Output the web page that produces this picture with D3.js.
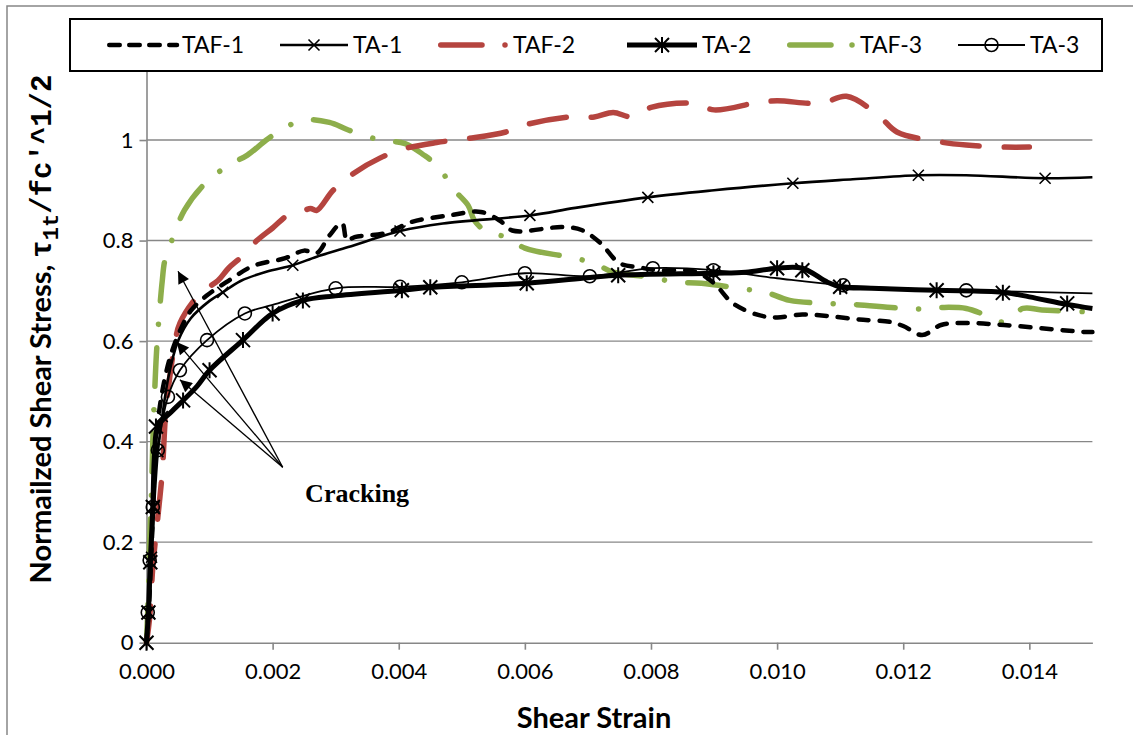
<!DOCTYPE html>
<html><head><meta charset="utf-8">
<script src="https://cdn.jsdelivr.net/npm/d3@7"></script>
<style>body{margin:0;background:#fff} svg{display:block}</style>
</head><body><svg id="c" width="1133" height="735"></svg>
<script>
// ---------- DATA ----------
const seriesNames = ["TAF-1", "TA-1", "TAF-2", "TA-2", "TAF-3", "TA-3"];
const xTickValues = [0, 0.002, 0.004, 0.006, 0.008, 0.010, 0.012, 0.014];
const yTickValues = [0, 0.2, 0.4, 0.6, 0.8, 1.0, 1.2];

const TAF1 = [[0,0],[0.00005,0.1],[0.0001,0.25],[0.00015,0.4],[0.00025,0.5],[0.00038,0.57],[0.00053,0.62],[0.0007,0.66],[0.00095,0.69],[0.0013,0.72],[0.0017,0.75],[0.0022,0.765],[0.0025,0.78],[0.0027,0.775],[0.0029,0.81],[0.0031,0.835],[0.00318,0.8],[0.0033,0.807],[0.0038,0.815],[0.0042,0.837],[0.0048,0.85],[0.0053,0.857],[0.0056,0.84],[0.0058,0.82],[0.0066,0.827],[0.0069,0.821],[0.0072,0.795],[0.0075,0.755],[0.0078,0.747],[0.0081,0.741],[0.0087,0.738],[0.009,0.715],[0.0093,0.675],[0.0097,0.652],[0.01,0.647],[0.0104,0.653],[0.0108,0.65],[0.0113,0.643],[0.0118,0.638],[0.012,0.63],[0.0123,0.612],[0.0126,0.632],[0.013,0.636],[0.0136,0.632],[0.0149,0.618],[0.015,0.618]];

const TA1 = [[0,0],[0.00004,0.06],[0.00008,0.17],[0.00012,0.27],[0.00018,0.38],[0.00025,0.45],[0.00035,0.53],[0.0005,0.6],[0.0007,0.645],[0.001,0.68],[0.00121,0.697],[0.0015,0.72],[0.0019,0.738],[0.00232,0.751],[0.0027,0.768],[0.0032,0.787],[0.00402,0.819],[0.0047,0.834],[0.00608,0.85],[0.0068,0.865],[0.00795,0.886],[0.009,0.9],[0.01025,0.914],[0.0112,0.922],[0.01224,0.93],[0.013,0.93],[0.01425,0.924],[0.015,0.926]];
const TA1markers = [[0,0],[0.00004,0.06],[0.00008,0.17],[0.00012,0.27],[0.00018,0.38],[0.00025,0.45],[0.00121,0.697],[0.00232,0.751],[0.00402,0.819],[0.00608,0.85],[0.00795,0.886],[0.01025,0.914],[0.01224,0.93],[0.01425,0.924]];

const TAF2 = [[0,0],[0.00005,0.05],[0.0001,0.15],[0.00018,0.25],[0.00025,0.34],[0.0003,0.45],[0.00035,0.51],[0.00045,0.595],[0.00053,0.636],[0.00085,0.695],[0.00113,0.72],[0.0013,0.745],[0.0015,0.767],[0.00175,0.8],[0.002,0.825],[0.00228,0.854],[0.0025,0.86],[0.0026,0.864],[0.0027,0.86],[0.00296,0.9],[0.0033,0.935],[0.0037,0.964],[0.0041,0.983],[0.0046,0.995],[0.0051,1.003],[0.0057,1.016],[0.006,1.03],[0.0067,1.046],[0.0071,1.046],[0.0074,1.055],[0.0077,1.046],[0.008,1.065],[0.0087,1.073],[0.009,1.06],[0.0097,1.075],[0.01,1.078],[0.0107,1.073],[0.0111,1.087],[0.0116,1.05],[0.0119,1.016],[0.0125,0.998],[0.013,0.99],[0.0136,0.986],[0.014,0.986]];

const TA2 = [[0,0],[0.00003,0.06],[0.00006,0.16],[0.0001,0.27],[0.00013,0.38],[0.00018,0.43],[0.0004,0.46],[0.00058,0.482],[0.0008,0.51],[0.001,0.542],[0.00153,0.602],[0.002,0.655],[0.00248,0.681],[0.003,0.69],[0.00405,0.701],[0.0045,0.707],[0.00603,0.715],[0.007,0.726],[0.00748,0.731],[0.00899,0.735],[0.0095,0.737],[0.01,0.745],[0.0104,0.745],[0.0108,0.717],[0.011,0.708],[0.0115,0.705],[0.01253,0.701],[0.01358,0.697],[0.0140,0.688],[0.0146,0.673],[0.015,0.665]];
const TA2markers = [[0,0],[0.00003,0.06],[0.00006,0.16],[0.0001,0.27],[0.00015,0.43],[0.00058,0.482],[0.001,0.542],[0.00153,0.602],[0.002,0.655],[0.00248,0.681],[0.00405,0.701],[0.0045,0.707],[0.00603,0.715],[0.00748,0.731],[0.00899,0.735],[0.01,0.745],[0.0104,0.741],[0.011,0.708],[0.01253,0.701],[0.01358,0.696],[0.0146,0.675]];

const TAF3 = [[0,0],[0.00003,0.1],[0.00005,0.2],[0.00008,0.3],[0.0001,0.4],[0.00013,0.5],[0.00016,0.58],[0.0002,0.65],[0.00025,0.72],[0.00029,0.76],[0.0004,0.8],[0.0006,0.86],[0.0009,0.91],[0.0013,0.95],[0.0016,0.97],[0.0019,1.0],[0.0022,1.025],[0.0025,1.04],[0.0029,1.035],[0.0032,1.02],[0.0037,1.0],[0.0041,0.993],[0.0044,0.97],[0.00465,0.944],[0.00484,0.906],[0.0051,0.87],[0.0052,0.84],[0.0054,0.817],[0.0057,0.807],[0.006,0.785],[0.0067,0.767],[0.0071,0.755],[0.0074,0.737],[0.008,0.727],[0.0084,0.717],[0.0088,0.715],[0.0095,0.703],[0.0098,0.698],[0.0102,0.681],[0.0108,0.675],[0.0112,0.673],[0.0122,0.664],[0.0126,0.667],[0.013,0.665],[0.0133,0.652],[0.0136,0.638],[0.0139,0.665],[0.0142,0.662],[0.015,0.658]];

const TA3 = [[0,0],[0.00002,0.06],[0.00005,0.164],[0.0001,0.27],[0.00018,0.383],[0.00034,0.489],[0.00053,0.542],[0.00096,0.602],[0.00156,0.655],[0.002,0.672],[0.003,0.705],[0.00402,0.708],[0.005,0.717],[0.006,0.735],[0.00703,0.729],[0.00803,0.745],[0.00899,0.741],[0.01,0.725],[0.01105,0.711],[0.013,0.701],[0.015,0.695]];
const TA3markers = [[0.00002,0.06],[0.00005,0.164],[0.0001,0.27],[0.00018,0.383],[0.00034,0.489],[0.00053,0.542],[0.00096,0.602],[0.00156,0.655],[0.003,0.705],[0.00402,0.708],[0.005,0.717],[0.006,0.735],[0.00703,0.729],[0.00803,0.745],[0.00899,0.741],[0.01105,0.711],[0.013,0.701]];

// Cracking annotation (data coordinates)
const crackOrigin = [0.00216, 0.349];
const crackTips = [[0.0005, 0.739], [0.00048, 0.598], [0.00053, 0.523]];
const crackLabel = [0.00334, 0.28];

// ---------- CHART ----------
const svg = d3.select("#c");
const x = d3.scaleLinear().domain([0, 0.015]).range([146.5, 1092.4]);
const y = d3.scaleLinear().domain([0, 1.2]).range([642.7, 39.5]);
const gray = "#878787";
const sans = "Lato, 'Open Sans', sans-serif";

// outer chart border
svg.append("rect").attr("x", 7).attr("y", 6).attr("width", 1140).attr("height", 740)
  .attr("fill", "#fff").attr("stroke", gray).attr("stroke-width", 1.5);

// gridlines
svg.append("g").selectAll("line").data(yTickValues.filter(d => d > 0)).join("line")
  .attr("x1", x(0)).attr("x2", x(0.015))
  .attr("y1", d => y(d)).attr("y2", d => y(d))
  .attr("stroke", gray).attr("stroke-width", 1.4);

// axes
const xAxis = d3.axisBottom(x).tickValues(xTickValues).tickFormat(d3.format(".3f")).tickSizeInner(7).tickSizeOuter(0).tickPadding(14);
const gx = svg.append("g").attr("transform", `translate(0,${y(0)})`).call(xAxis);
const yAxis = d3.axisLeft(y).tickValues(yTickValues).tickFormat(d => d === 0 ? "0" : d3.format("~g")(d)).tickSizeInner(7).tickSizeOuter(0).tickPadding(6);
const gy = svg.append("g").attr("transform", `translate(${x(0)},0)`).call(yAxis);
[gx, gy].forEach(g => {
  g.select(".domain").attr("stroke", gray).attr("stroke-width", 1.6);
  g.selectAll(".tick line").attr("stroke", gray).attr("stroke-width", 1.6);
  g.selectAll(".tick text").attr("fill", "#000").attr("font-family", sans).attr("font-size", 22);
});

// series
const line = d3.line().x(d => x(d[0])).y(d => y(d[1])).curve(d3.curveCatmullRom.alpha(0.5));
const styles = {
  "TAF-1": {data: TAF1, color: "#000", width: 4.5, dash: "10,11"},
  "TA-1":  {data: TA1, color: "#000", width: 2.6, dash: null, markers: TA1markers, sym: "x"},
  "TAF-2": {data: TAF2, color: "#B5443F", width: 5.5, dash: "37,25"},
  "TA-2":  {data: TA2, color: "#000", width: 5, dash: null, markers: TA2markers, sym: "star"},
  "TAF-3": {data: TAF3, color: "#8DAE4B", width: 5.5, dash: "38.5,23.5,0.01,23.5"},
  "TA-3":  {data: TA3, color: "#000", width: 1.8, dash: null, markers: TA3markers, sym: "o"}
};
const order = ["TAF-3", "TAF-2", "TAF-1", "TA-1", "TA-3", "TA-2"];

function drawMarker(g, sym, cx, cy) {
  if (sym === "x") {
    const s = 5.5;
    g.append("path").attr("d", `M${cx-s},${cy-s}L${cx+s},${cy+s}M${cx-s},${cy+s}L${cx+s},${cy-s}`)
      .attr("stroke", "#000").attr("stroke-width", 1.6).attr("fill", "none");
  } else if (sym === "star") {
    const s = 7;
    g.append("path").attr("d", `M${cx-s},${cy-s}L${cx+s},${cy+s}M${cx-s},${cy+s}L${cx+s},${cy-s}M${cx},${cy-s-1}L${cx},${cy+s+1}`)
      .attr("stroke", "#000").attr("stroke-width", 2).attr("fill", "none");
  } else if (sym === "o") {
    g.append("circle").attr("cx", cx).attr("cy", cy).attr("r", 6.5)
      .attr("stroke", "#000").attr("stroke-width", 1.6).attr("fill", "none");
  }
}

const plot = svg.append("g");
order.forEach(name => {
  const st = styles[name];
  plot.append("path").datum(st.data).attr("d", line)
    .attr("fill", "none").attr("stroke", st.color).attr("stroke-width", st.width)
    .attr("stroke-linecap", st.dash ? "round" : "butt").attr("stroke-linejoin", "round")
    .attr("stroke-dasharray", st.dash);
  if (st.markers) {
    const mg = plot.append("g");
    st.markers.forEach(m => drawMarker(mg, st.sym, x(m[0]), y(m[1])));
  }
});

// Cracking annotation
const defs = svg.append("defs");
defs.append("marker").attr("id", "arr").attr("viewBox", "0 0 10 10").attr("refX", 10).attr("refY", 5)
  .attr("markerWidth", 15).attr("markerHeight", 12).attr("markerUnits", "userSpaceOnUse").attr("orient", "auto")
  .append("path").attr("d", "M0,0L10,5L0,10Z").attr("fill", "#000");
svg.append("g").selectAll("line").data(crackTips).join("line")
  .attr("x1", x(crackOrigin[0])).attr("y1", y(crackOrigin[1]))
  .attr("x2", d => x(d[0])).attr("y2", d => y(d[1]))
  .attr("stroke", "#000").attr("stroke-width", 1.3).attr("marker-end", "url(#arr)");
svg.append("text").attr("x", x(crackLabel[0])).attr("y", y(crackLabel[1]))
  .attr("text-anchor", "middle").attr("font-family", "'Liberation Serif', 'Times New Roman', serif")
  .attr("font-weight", "bold").attr("font-size", 26).text("Cracking");

// axis titles
svg.append("text").attr("x", 594).attr("y", 728).attr("text-anchor", "middle")
  .attr("font-family", sans).attr("font-weight", "bold").attr("font-size", 29).text("Shear Strain");
const yt = svg.append("text").attr("transform", "translate(51,329) rotate(-90)").attr("text-anchor", "middle")
  .attr("font-weight", "bold").attr("font-size", 29).attr("font-family", sans);
yt.append("tspan").text("Normailzed Shear Stress, ");
yt.append("tspan").attr("font-family", "'Liberation Mono', monospace").text("τ");
yt.append("tspan").attr("font-family", "'Liberation Mono', monospace").attr("font-size", 22).attr("dy", 7).text("1t");
yt.append("tspan").attr("font-family", "'Liberation Mono', monospace").attr("dy", -7).text("/fc'^1/2");

// legend
const lg = svg.append("g");
lg.append("rect").attr("x", 70).attr("y", 19).attr("width", 1032).attr("height", 52)
  .attr("fill", "#fff").attr("stroke", "#000").attr("stroke-width", 2);
const legendX = [[107, 177, 182], [280, 348, 353], [438, 505, 513], [627, 697, 702], [787, 852, 860], [958, 1025, 1030]];
const ly = 45;
seriesNames.forEach((name, i) => {
  const st = styles[name];
  const [a, b, t] = legendX[i];
  if (name === "TAF-2" || name === "TAF-3") {
    lg.append("line").attr("x1", a + 2.75).attr("x2", a + 44).attr("y1", ly).attr("y2", ly)
      .attr("stroke", st.color).attr("stroke-width", st.width).attr("stroke-linecap", "round");
    lg.append("circle").attr("cx", b).attr("cy", ly).attr("r", st.width / 2).attr("fill", st.color);
  } else {
    lg.append("line").attr("x1", a + (st.dash ? 2.25 : 0)).attr("x2", b).attr("y1", ly).attr("y2", ly)
      .attr("stroke", st.color).attr("stroke-width", st.width)
      .attr("stroke-linecap", st.dash ? "round" : "butt").attr("stroke-dasharray", st.dash ? "10.5,9.5" : null);
    if (st.sym) drawMarker(lg, st.sym, (a + b) / 2, ly);
  }
  lg.append("text").attr("x", t).attr("y", ly + 8).attr("font-family", sans).attr("font-size", 23).text(name);
});
</script>
</body></html>
